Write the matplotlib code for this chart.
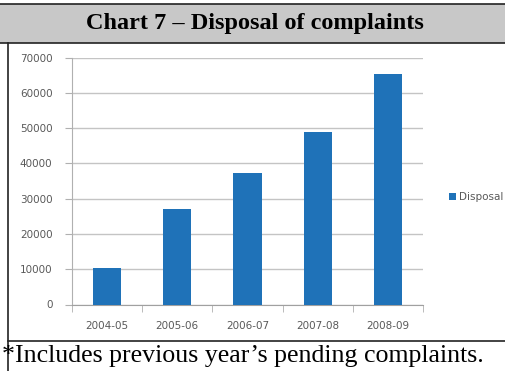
import matplotlib.pyplot as plt
from matplotlib.patches import Rectangle
from matplotlib.lines import Line2D

# complaints disposed per year
years = ['2004-05', '2005-06', '2006-07', '2007-08', '2008-09']
disposal = [10300, 27000, 37300, 48800, 65300]
yticks = [0, 10000, 20000, 30000, 40000, 50000, 60000, 70000]

title = 'Chart 7 \u2013 Disposal of complaints'
note = '*Includes previous year\u2019s pending complaints.'

W, H = 505, 371
fig = plt.figure(figsize=(W / 100, H / 100), dpi=100)

def fx(px):
    return px / W

def fy(py):
    return 1 - py / H

# title band and table-like frame
fig.add_artist(Rectangle((0, fy(43)), 1, fy(4) - fy(43), transform=fig.transFigure,
                         facecolor='#c8c8c8', edgecolor='none'))
for y in (4, 43, 341):
    x0 = 0 if y != 341 else fx(8)
    fig.add_artist(Line2D([x0, 1], [fy(y), fy(y)], transform=fig.transFigure,
                          color='#222222', lw=1.2))
fig.add_artist(Line2D([fx(8), fx(8)], [fy(43), 0], transform=fig.transFigure,
                      color='#222222', lw=1.2))

fig.text(fx(255), fy(24), title, ha='center', va='center',
         fontsize=17.5, fontweight='bold', family='Liberation Serif')
fig.text(fx(2), fy(356), note, ha='left', va='center',
         fontsize=18.6, family='Liberation Serif')

ax = fig.add_axes([fx(72), fy(304.5), fx(423) - fx(72), fy(57.5) - fy(304.5)])
x = range(len(years))
bars = ax.bar(x, disposal, width=0.4, color='#1f72b8', label='Disposal', zorder=3)

ax.set_xlim(-0.5, len(years) - 0.5)
ax.set_ylim(0, 70000)
ax.set_yticks(yticks)
ax.set_yticklabels([str(v) for v in yticks])
ax.set_xticks(list(x))
ax.set_xticklabels(years)
ax.set_xticks([i - 0.5 for i in range(len(years) + 1)], minor=True)

ax.grid(axis='y', color='#c4c4c4', lw=1.0, zorder=0)
for s in ('top', 'right'):
    ax.spines[s].set_visible(False)
ax.spines['left'].set_color('#b0b0b0')
ax.spines['bottom'].set_color('#a0a0a0')

ax.tick_params(axis='y', labelsize=7.5, labelcolor='#595959', color='#b0b0b0',
               length=5, pad=9)
ax.tick_params(axis='x', which='major', length=0, labelsize=7.5,
               labelcolor='#595959', pad=12)
ax.tick_params(axis='x', which='minor', length=5, color='#b0b0b0')

fig.legend(handles=[bars], loc='center left', bbox_to_anchor=(fx(440), fy(197)),
           frameon=False, handlelength=0.6, handleheight=0.6, handletextpad=0.3,
           prop={'size': 7.5}, labelcolor='#595959')

fig.savefig('out.png', dpi=100)
